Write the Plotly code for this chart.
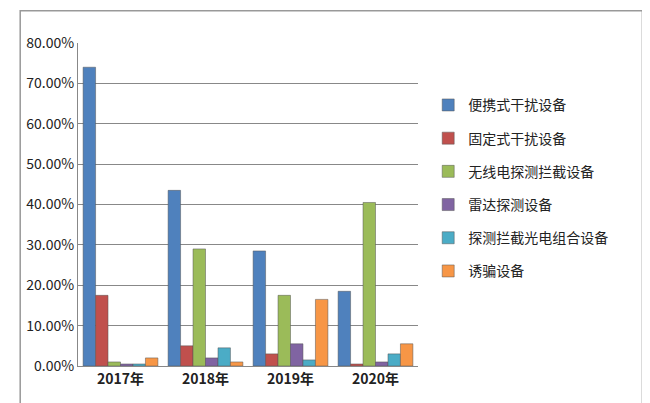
import plotly.graph_objects as go

years = ["2017年", "2018年", "2019年", "2020年"]
series_names = ["便携式干扰设备", "固定式干扰设备", "无线电探测拦截设备",
                "雷达探测设备", "探测拦截光电组合设备", "诱骗设备"]
values = [
    [74.0, 43.5, 28.5, 18.5],
    [17.5, 5.0, 3.0, 0.5],
    [1.0, 29.0, 17.5, 40.5],
    [0.5, 2.0, 5.5, 1.0],
    [0.5, 4.5, 1.5, 3.0],
    [2.0, 1.0, 16.5, 5.5],
]
colors = ["#4F81BD", "#C0504D", "#9BBB59", "#8064A2", "#4BACC6", "#F79646"]

fig = go.Figure()
for name, vals, c in zip(series_names, values, colors):
    fig.add_trace(go.Bar(name=name, x=years, y=[v / 100 for v in vals], legendgroup=name,
                         marker=dict(color=c, line=dict(color="#555", width=0.5))))

fig.update_layout(
    width=650, height=403, barmode="group", bargap=0.12,
    paper_bgcolor="white", plot_bgcolor="white",
    font=dict(family="Noto Sans CJK SC", color="#222"),
    margin=dict(l=70, r=240, t=35, b=45),
    yaxis=dict(range=[0, 0.8], dtick=0.1, tickformat=".2%", showgrid=True,
               gridcolor="#888", gridwidth=1, showline=True, linecolor="#888",
               tickfont=dict(size=14)),
    xaxis=dict(showline=True, linecolor="#888",
               tickfont=dict(size=14, family="Noto Sans CJK SC", weight="bold")),
    legend=dict(x=1.03, y=0.55, yanchor="middle", font=dict(size=14),
                tracegroupgap=12, itemwidth=30),
    shapes=[dict(type="rect", xref="paper", yref="paper", x0=-0.17, x1=1.66,
                 y0=-0.14, y1=1.1, line=dict(color="#999", width=1.5))],
)
fig.write_html("out.html")
